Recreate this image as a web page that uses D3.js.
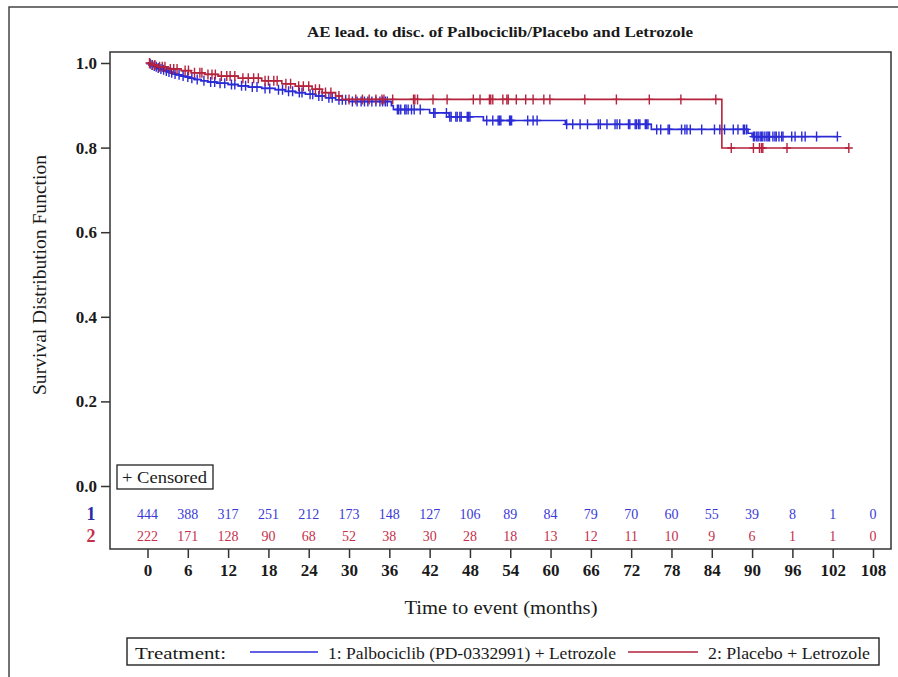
<!DOCTYPE html>
<html>
<head>
<meta charset="utf-8">
<script src="https://cdn.jsdelivr.net/npm/d3@7"></script>
<style>
  html, body { margin: 0; padding: 0; background: #fff; }
  svg { display: block; }
  text { font-family: "Liberation Serif", "Times New Roman", serif; }
</style>
</head>
<body>
<svg id="chart" width="898" height="677"></svg>
<script>
// ---- data ----
const timeTicks = [0, 6, 12, 18, 24, 30, 36, 42, 48, 54, 60, 66, 72, 78, 84, 90, 96, 102, 108];
const survTicks = [0.0, 0.2, 0.4, 0.6, 0.8, 1.0];

const groups = ["1", "2"];
const groupNames = ["1: Palbociclib (PD-0332991) + Letrozole", "2: Placebo + Letrozole"];

const atRiskPalbo = [444, 388, 317, 251, 212, 173, 148, 127, 106, 89, 84, 79, 70, 60, 55, 39, 8, 1, 0];
const atRiskPlacebo = [222, 171, 128, 90, 68, 52, 38, 30, 28, 18, 13, 12, 11, 10, 9, 6, 1, 1, 0];

// Kaplan-Meier steps: [event time (months), survival after the event]
const palboSteps = [
  [0.2, 0.998], [0.5, 0.995], [0.8, 0.993], [1.1, 0.991], [1.4, 0.988], [1.8, 0.986],
  [2.2, 0.984], [2.6, 0.981], [3.0, 0.979], [3.4, 0.977], [3.8, 0.974], [4.3, 0.972],
  [5.0, 0.969], [5.7, 0.967], [6.3, 0.964], [7.0, 0.961], [8.0, 0.958], [9.0, 0.955],
  [10.3, 0.952], [12.0, 0.949], [13.5, 0.946], [15.0, 0.943], [17.0, 0.940], [19.0, 0.937],
  [20.5, 0.933], [22.0, 0.930], [23.5, 0.926], [25.0, 0.922], [26.5, 0.918], [28.0, 0.913],
  [30.0, 0.909], [36.3, 0.899], [36.6, 0.890], [42.0, 0.882], [44.9, 0.873], [50.0, 0.864],
  [62.2, 0.855], [75.0, 0.843], [89.4, 0.834], [90.0, 0.826]
];
const palboLastTime = 102.7;
const palboCensored = [
  0.4, 0.7, 1.0, 1.3, 1.6, 2.0, 2.4, 2.8, 3.2, 3.6, 4.1, 4.7, 5.3, 6.0, 6.6, 7.4, 8.4, 9.4,
  10.0, 10.8, 11.5, 12.5, 13.0, 14.0, 14.6, 15.6, 16.3, 17.5, 18.2, 19.5, 20.1, 21.0, 21.6,
  22.6, 23.0, 24.2, 24.6, 25.5, 26.0, 27.0, 27.5, 28.5, 29.0, 29.5, 30.5, 31.2, 31.8, 32.3,
  32.8, 33.4, 34.0, 34.6, 35.0, 35.4, 35.7, 37.2, 37.4, 37.7, 38.3, 38.5, 38.8, 39.3, 39.7,
  40.6, 42.6, 42.8, 44.5, 45.0, 45.2, 45.9, 46.1, 46.5, 46.7, 47.6, 47.8, 48.0, 50.5, 51.4,
  52.2, 52.4, 52.6, 53.9, 54.0, 54.2, 56.6, 57.4, 58.0, 62.4, 63.3, 64.4, 65.5, 67.1, 67.4,
  68.4, 69.6, 69.9, 70.3, 71.6, 71.8, 72.6, 72.8, 73.1, 73.3, 74.1, 74.3, 74.5, 75.8, 76.4,
  77.5, 77.7, 79.5, 80.0, 80.3, 80.8, 82.5, 84.4, 85.2, 85.9, 87.2, 87.9, 88.7, 88.9, 89.2,
  90.2, 90.4, 90.7, 90.9, 91.2, 91.4, 91.6, 91.9, 92.2, 92.4, 92.6, 93.1, 93.4, 93.6, 94.0,
  94.4, 94.6, 95.9, 96.4, 97.4, 97.9, 99.6, 102.7
];

const placeboSteps = [
  [0.5, 0.995], [1.5, 0.991], [3.0, 0.986], [5.0, 0.982], [6.5, 0.977], [8.5, 0.973],
  [10.5, 0.969], [13.5, 0.964], [17.0, 0.958], [20.0, 0.951], [22.0, 0.945], [24.5, 0.938],
  [26.0, 0.930], [28.0, 0.922], [29.0, 0.914], [85.5, 0.799]
];
const placeboLastTime = 104.4;
const placeboCensored = [
  0.3, 0.7, 1.1, 1.8, 2.2, 2.6, 3.4, 3.9, 4.4, 5.6, 6.1, 7.0, 7.8, 8.1, 9.0, 9.6, 10.1, 11.0,
  11.8, 12.3, 13.0, 14.2, 15.0, 15.8, 16.5, 17.5, 18.0, 18.8, 19.3, 20.6, 21.3, 22.5, 23.2,
  24.0, 25.0, 25.6, 26.5, 27.3, 28.5, 30.0, 31.0, 32.0, 33.0, 34.0, 34.9, 35.2, 36.5, 39.6,
  39.8, 40.2, 42.5, 44.6, 48.5, 49.5, 50.9, 51.1, 51.4, 52.9, 53.5, 53.7, 54.9, 56.3, 57.4,
  59.0, 59.9, 65.1, 69.8, 74.7, 79.4, 84.6, 86.9, 90.2, 91.1, 91.4, 91.6, 95.2, 104.4
];

// ---- layout ----
const svg = d3.select("#chart");
const box = { left: 110, top: 52, right: 891, bottom: 549 };
const x = d3.scaleLinear().domain([0, 108]).range([147.5, 873]);
const y = d3.scaleLinear().domain([0, 1]).range([486, 63]);

const blue = "#2b2bd6";
const red = "#b5223c";
const ink = "#1a1a1a";

// outer frame
svg.append("rect").attr("x", 9).attr("y", 7).attr("width", 1000).attr("height", 1000)
  .attr("fill", "none").attr("stroke", "#444").attr("stroke-width", 1.5);

// title
svg.append("text").attr("x", 500).attr("y", 37).attr("text-anchor", "middle")
  .attr("font-size", 14).attr("font-weight", "bold").attr("fill", ink)
  .attr("textLength", 386).attr("lengthAdjust", "spacingAndGlyphs")
  .text("AE lead. to disc. of Palbociclib/Placebo and Letrozole");

// plot frame
svg.append("rect").attr("x", box.left).attr("y", box.top)
  .attr("width", box.right - box.left).attr("height", box.bottom - box.top)
  .attr("fill", "none").attr("stroke", "#333").attr("stroke-width", 1.5);

// y axis
const yAxis = d3.axisLeft(y).tickValues(survTicks).tickFormat(d3.format(".1f")).tickSize(9).tickPadding(4);
const gy = svg.append("g").attr("transform", `translate(${box.left},0)`).call(yAxis);
gy.select(".domain").remove();
gy.selectAll(".tick line").attr("stroke", "#333").attr("stroke-width", 1.5);
gy.selectAll(".tick text").attr("font-family", "Liberation Serif, serif").attr("font-size", 17)
  .attr("font-weight", "bold").attr("fill", ink);

// x axis
const xAxis = d3.axisBottom(x).tickValues(timeTicks).tickSize(9).tickPadding(6);
const gx = svg.append("g").attr("transform", `translate(0,${box.bottom})`).call(xAxis);
gx.select(".domain").remove();
gx.selectAll(".tick line").attr("stroke", "#333").attr("stroke-width", 1.5);
gx.selectAll(".tick text").attr("font-family", "Liberation Serif, serif").attr("font-size", 17)
  .attr("font-weight", "bold").attr("fill", ink);

// axis titles
svg.append("text").attr("transform", "translate(46,275) rotate(-90)")
  .attr("text-anchor", "middle").attr("font-size", 18).attr("fill", ink)
  .attr("textLength", 240).attr("lengthAdjust", "spacingAndGlyphs")
  .text("Survival Distribution Function");
svg.append("text").attr("x", 501).attr("y", 614).attr("text-anchor", "middle")
  .attr("font-size", 18).attr("fill", ink)
  .attr("textLength", 193).attr("lengthAdjust", "spacingAndGlyphs")
  .text("Time to event (months)");

// survival curves
function survivalAt(steps, t) {
  let s = 1;
  for (const [ti, si] of steps) { if (ti <= t) s = si; else break; }
  return s;
}
function curvePoints(steps, last) {
  const pts = [[0, 1], ...steps];
  pts.push([last, steps[steps.length - 1][1]]);
  return pts;
}
const line = d3.line().x(d => x(d[0])).y(d => y(d[1])).curve(d3.curveStepAfter);

const series = [
  { steps: palboSteps, last: palboLastTime, cens: palboCensored, color: blue },
  { steps: placeboSteps, last: placeboLastTime, cens: placeboCensored, color: red }
];

series.forEach(sr => {
  svg.append("path").datum(curvePoints(sr.steps, sr.last)).attr("d", line)
    .attr("fill", "none").attr("stroke", sr.color).attr("stroke-width", 1.6);
  const marks = svg.append("g").attr("stroke", sr.color).attr("stroke-width", 1.4);
  marks.selectAll("path").data(sr.cens).join("path")
    .attr("d", t => {
      const cx = x(t), cy = y(survivalAt(sr.steps, t));
      return `M${cx - 4},${cy}H${cx + 4}M${cx},${cy - 5}V${cy + 5}`;
    });
});

// censored legend box
svg.append("rect").attr("x", 117).attr("y", 465).attr("width", 96).attr("height", 24)
  .attr("fill", "#fff").attr("stroke", "#222").attr("stroke-width", 1.3);
svg.append("text").attr("x", 122).attr("y", 483).attr("font-size", 16).attr("fill", ink)
  .attr("textLength", 85).attr("lengthAdjust", "spacingAndGlyphs")
  .text("+ Censored");

// numbers at risk
const riskRows = [
  { label: groups[0], values: atRiskPalbo, color: "#3a3ad8", labelColor: "#2a2aa8", yPos: 519 },
  { label: groups[1], values: atRiskPlacebo, color: "#c4304c", labelColor: "#c4304c", yPos: 541 }
];
riskRows.forEach(r => {
  svg.append("text").attr("x", 91).attr("y", r.yPos + 1).attr("text-anchor", "middle")
    .attr("font-size", 18).attr("font-weight", "bold").attr("fill", r.labelColor).text(r.label);
  svg.append("g").selectAll("text").data(r.values).join("text")
    .attr("x", (d, i) => x(timeTicks[i])).attr("y", r.yPos)
    .attr("text-anchor", "middle").attr("font-size", 14).attr("fill", r.color)
    .text(d => d);
});

// treatment legend
const lg = svg.append("g");
lg.append("rect").attr("x", 127).attr("y", 638).attr("width", 752).attr("height", 27)
  .attr("fill", "#fff").attr("stroke", "#222").attr("stroke-width", 1.4);
lg.append("text").attr("x", 135).attr("y", 659).attr("font-size", 17).attr("fill", ink)
  .attr("textLength", 91).attr("lengthAdjust", "spacingAndGlyphs").text("Treatment:");
const legendItems = [
  { name: groupNames[0], color: blue, x0: 250, x1: 318, tx: 328, tl: 288 },
  { name: groupNames[1], color: red, x0: 628, x1: 698, tx: 708, tl: 162 }
];
legendItems.forEach(it => {
  lg.append("line").attr("x1", it.x0).attr("x2", it.x1).attr("y1", 652).attr("y2", 652)
    .attr("stroke", it.color).attr("stroke-width", 1.6);
  lg.append("text").attr("x", it.tx).attr("y", 659).attr("font-size", 16).attr("fill", ink)
    .attr("textLength", it.tl).attr("lengthAdjust", "spacingAndGlyphs").text(it.name);
});
</script>
</body>
</html>
